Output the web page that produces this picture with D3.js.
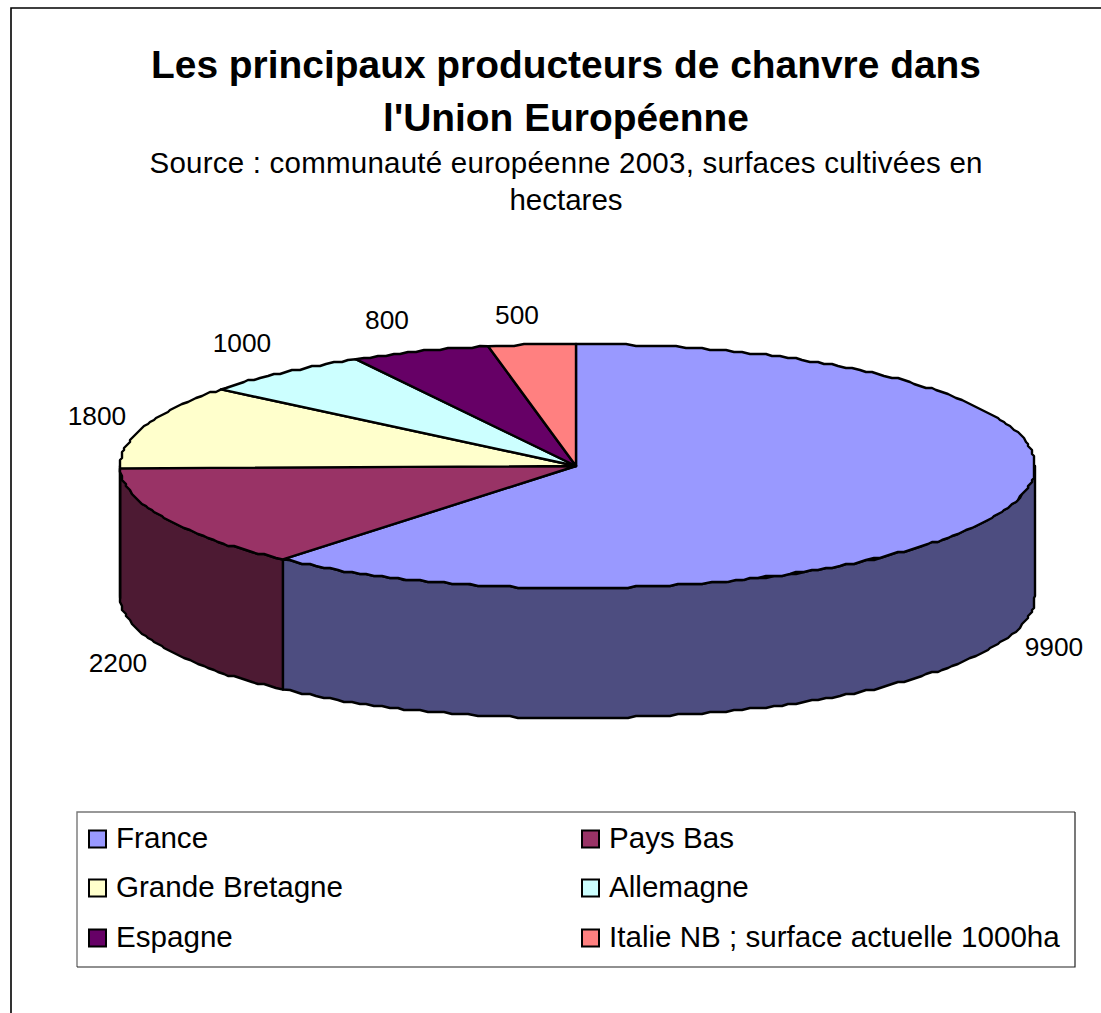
<!DOCTYPE html>
<html lang="fr"><head><meta charset="utf-8">
<script src="https://cdn.jsdelivr.net/npm/d3@7"></script>
<style>
html,body{margin:0;padding:0;background:#fff}
svg{display:block}
text{font-family:"Liberation Sans",Arial,sans-serif;fill:#000}
</style></head><body><div id="chart"></div>
<script>
const categories=["France","Pays Bas","Grande Bretagne","Allemagne","Espagne","Italie NB ; surface actuelle 1000ha"];
const values=[9900,2200,1800,1000,800,500];
const topColors=["#9999ff","#993366","#ffffcc","#ccffff","#660066","#ff8080"];
const sideColors=["#4d4d80","#4d1a33","#808066","#668080","#330033","#804040"];
const titleLines=["Les principaux producteurs de chanvre dans","l'Union Européenne"];
const subtitleLines=["Source : communauté européenne 2003, surfaces cultivées en","hectares"];

const W=1101,H=1013;
const cy=466,ry=122,depth=130;
const labelPos=[[1054,656],[118,672],[97,425],[242,352],[387,329],[517,324]];
const svg=d3.select("#chart").append("svg").attr("width",W).attr("height",H);
svg.append("rect").attr("width",W).attr("height",H).attr("fill","#fff");
svg.append("path").attr("d",`M11,${H}V8H${W}`).attr("fill","none").attr("stroke","#000").attr("stroke-width",1.6);

svg.append("g").selectAll("text").data(titleLines).join("text")
  .attr("x",566).attr("y",(d,i)=>[78,131][i]).attr("text-anchor","middle")
  .attr("font-size",38.9).attr("font-weight","bold").text(d=>d);
svg.append("g").selectAll("text").data(subtitleLines).join("text")
  .attr("x",566).attr("y",(d,i)=>[173,210][i]).attr("text-anchor","middle")
  .attr("font-size",29.5).each(function(d,i){ if(!i) d3.select(this).attr("textLength",833); }).text(d=>d);

// The ellipse is slightly asymmetric around the hub in the reference
const x=d3.scaleLinear().domain([-1,0,1]).range([120,576,1035]);
const y=d3.scaleLinear().domain([-1,1]).range([cy-ry,cy+ry]);
const pie=d3.pie().sort(null).value(d=>d);
const arcs=pie(values);
const px=a=>x(Math.sin(a)), py=(a,dz=0)=>y(-Math.cos(a))+dz;
const line=d3.line();
const STEP=Math.PI/170, Q=2;
const q=v=>Math.round(v/Q)*Q;
function rim(a0,a1,dz){ // points along rim, lightly quantised like the reference's stepped outline
  const n=Math.max(1,Math.round(Math.abs(a1-a0)/STEP)),pts=[];
  for(let k=0;k<=n;k++){
    const a=a0+(a1-a0)*k/n;
    if(k===0||k===n) pts.push([px(a),py(a,dz)]);
    else pts.push([q(px(a)),q(py(a,dz))]);
  }
  return pts;
}
function style(s){return s.attr("stroke","#000").attr("stroke-width",2.4).attr("stroke-linejoin","round");}

// side walls: only the front half (angles PI/2..3PI/2) is visible
const walls=svg.append("g");
arcs.forEach((d,i)=>{
  const a0=Math.max(d.startAngle,Math.PI/2),a1=Math.min(d.endAngle,3*Math.PI/2);
  if(a1<=a0)return;
  style(walls.append("path")
   .attr("d",line([...rim(a0,a1,0),...rim(a1,a0,depth)])+"Z")
   .attr("fill",sideColors[i]));
});
// top face
const tops=svg.append("g");
arcs.forEach((d,i)=>{
  style(tops.append("path")
   .attr("d",line([[x(0),cy],...rim(d.startAngle,d.endAngle,0)])+"Z")
   .attr("fill",topColors[i]));
});
svg.append("g").selectAll("text").data(values).join("text")
  .attr("x",(d,i)=>labelPos[i][0]).attr("y",(d,i)=>labelPos[i][1])
  .attr("text-anchor","middle").attr("font-size",26.3).text(d=>d);

// legend
svg.append("path").attr("d","M77,967V812H1075").attr("fill","none").attr("stroke","#777").attr("stroke-width",1.4);
svg.append("path").attr("d","M77,967H1075V812").attr("fill","none").attr("stroke","#222").attr("stroke-width",1.2);
const colX=[89,582],rowY=[839,888,938];
const leg=svg.append("g").selectAll("g").data(categories).join("g")
  .attr("transform",(d,i)=>`translate(${colX[i%2]},${rowY[Math.floor(i/2)]})`);
leg.append("rect").attr("x",0).attr("y",-8.5).attr("width",17).attr("height",17)
  .attr("fill",(d,i)=>topColors[i]).attr("stroke","#000").attr("stroke-width",2);
leg.append("text").attr("x",27).attr("y",8.5).attr("font-size",29.6).text(d=>d);
</script></body></html>
